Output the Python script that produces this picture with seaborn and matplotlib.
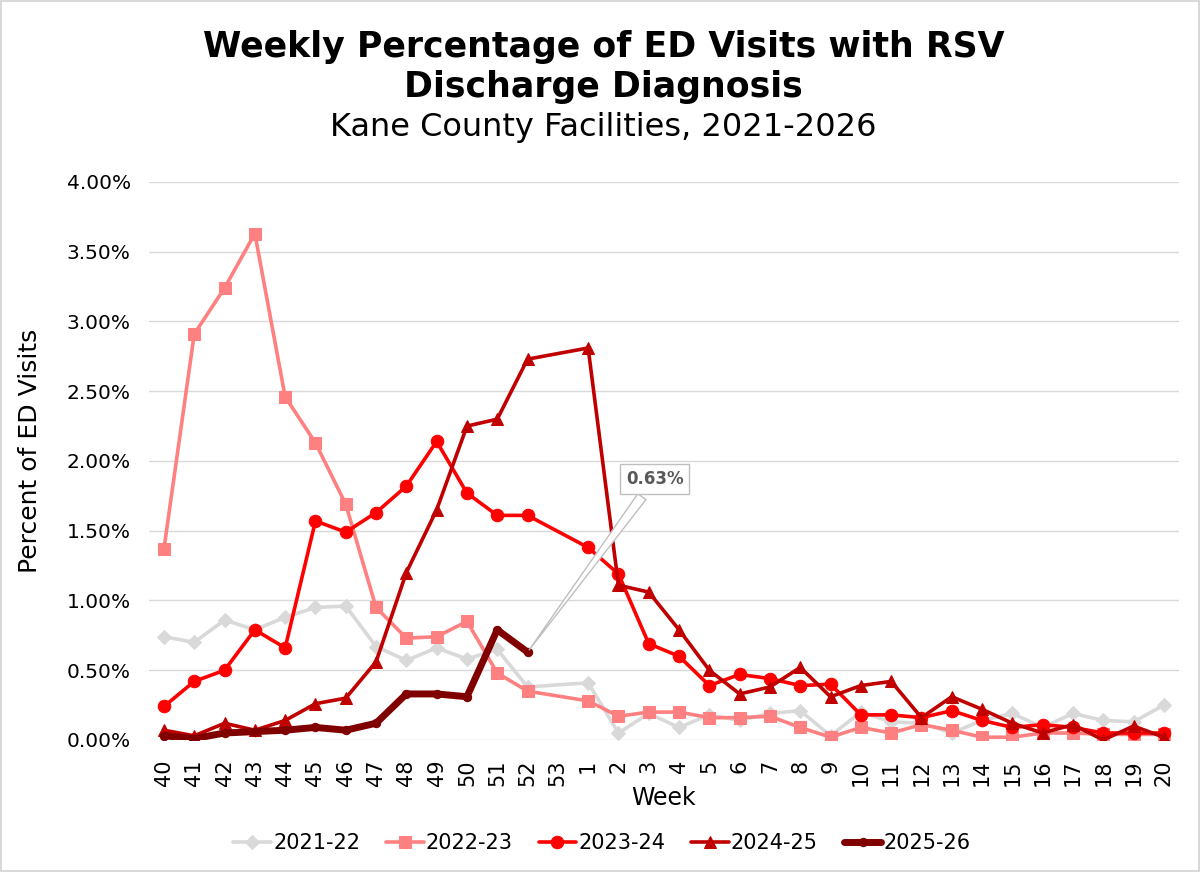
import numpy as np
import pandas as pd
import matplotlib
matplotlib.use("Agg")
import matplotlib.pyplot as plt
import seaborn as sns

# MMWR weeks, season runs week 40 -> week 20
weeks = [str(w) for w in list(range(40, 54)) + list(range(1, 21))]

# percent of ED visits, None where no value (week 53 / not yet reported)
s2021_22 = [0.74, 0.70, 0.86, 0.79, 0.88, 0.95, 0.96, 0.67, 0.57, 0.66, 0.58, 0.65, 0.38, None,
            0.41, 0.05, 0.19, 0.09, 0.18, 0.14, 0.19, 0.21, 0.03, 0.20, 0.13, 0.12, 0.05, 0.14,
            0.19, 0.09, 0.19, 0.14, 0.13, 0.25]
s2022_23 = [1.37, 2.91, 3.24, 3.63, 2.46, 2.13, 1.69, 0.95, 0.73, 0.74, 0.85, 0.48, 0.35, None,
            0.28, 0.17, 0.20, 0.20, 0.16, 0.16, 0.17, 0.09, 0.02, 0.09, 0.05, 0.11, 0.07, 0.02,
            0.02, 0.05, 0.05, 0.04, 0.04, 0.04]
s2023_24 = [0.24, 0.42, 0.50, 0.79, 0.66, 1.57, 1.49, 1.63, 1.82, 2.14, 1.77, 1.61, 1.61, None,
            1.38, 1.19, 0.69, 0.60, 0.39, 0.47, 0.44, 0.39, 0.40, 0.18, 0.18, 0.16, 0.21, 0.14,
            0.09, 0.11, 0.09, 0.05, 0.05, 0.05]
s2024_25 = [0.07, 0.03, 0.12, 0.07, 0.14, 0.26, 0.30, 0.56, 1.20, 1.65, 2.25, 2.30, 2.73, None,
            2.81, 1.11, 1.06, 0.79, 0.50, 0.33, 0.38, 0.52, 0.31, 0.39, 0.42, 0.16, 0.31, 0.22,
            0.12, 0.05, 0.11, 0.00, 0.10, 0.02]
s2025_26 = [0.03, 0.01, 0.05, 0.06, 0.07, 0.09, 0.07, 0.12, 0.33, 0.33, 0.31, 0.79, 0.63, None] + [None] * 20

seasons = ["2021-22", "2022-23", "2023-24", "2024-25", "2025-26"]
values = [s2021_22, s2022_23, s2023_24, s2024_25, s2025_26]
colors = ["#D9D9D9", "#FF8080", "#FF0000", "#C00000", "#800000"]
markers = ["D", "s", "o", "^", "o"]
msizes = [7, 8, 9, 8, 6]
widths = [2.6, 2.6, 2.6, 2.6, 5.0]

sns.set_style("white")
plt.rcParams["font.family"] = ["DejaVu Sans"]
plt.rcParams["text.color"] = "black"
plt.rcParams["axes.labelcolor"] = "black"
plt.rcParams["xtick.color"] = "black"
plt.rcParams["ytick.color"] = "black"

fig = plt.figure(figsize=(12, 8.72), dpi=100, edgecolor="#D9D9D9", linewidth=1.5)
ax = fig.add_axes([0.124, 0.1514, 0.8585, 0.6399])

for name, vals, col, mk, ms, lw in zip(seasons, values, colors, markers, msizes, widths):
    df = pd.DataFrame({"pos": np.arange(len(weeks)), "pct": vals}).dropna()
    sns.lineplot(data=df, x="pos", y="pct", ax=ax, color=col, marker=mk, markersize=ms,
                 markeredgecolor=col, linewidth=lw, label=name, sort=False)

# callout for the latest value
last_idx = max(i for i, v in enumerate(s2025_26) if v is not None)
last_val = s2025_26[last_idx]
ax.annotate(f"{last_val:.2f}%", xy=(last_idx, last_val), xytext=(last_idx + 4.2, 1.87),
            ha="center", va="center", fontsize=12, fontweight="bold", color="#595959",
            bbox=dict(boxstyle="square,pad=0.35", fc="white", ec="#BFBFBF", lw=1),
            arrowprops=dict(arrowstyle="wedge,tail_width=0.6,shrink_factor=0.5",
                            fc="white", ec="#BFBFBF", lw=1))

ax.set_xlim(-0.5, len(weeks) - 0.5)
ax.set_ylim(0, 4)
ax.set_xticks(range(len(weeks)))
ax.set_xticklabels(weeks, rotation=90, fontsize=15)
yt = np.arange(0, 4.01, 0.5)
ax.set_yticks(yt)
ax.set_yticklabels([f"{v:.2f}%" for v in yt], fontsize=14.5)
ax.tick_params(axis="y", length=0, pad=13)
ax.tick_params(axis="x", length=0, pad=14)
ax.yaxis.grid(True, color="#D9D9D9", linewidth=1)
ax.set_axisbelow(True)
for sp in ax.spines.values():
    sp.set_visible(False)

ax.set_xlabel("Week", fontsize=17, labelpad=0)
ax.set_ylabel("Percent of ED Visits", fontsize=18)
ax.yaxis.set_label_coords(-0.104, 0.518)

fig.text(0.503, 0.946, "Weekly Percentage of ED Visits with RSV", ha="center", va="center",
         fontsize=25, fontweight="bold")
fig.text(0.503, 0.900, "Discharge Diagnosis", ha="center", va="center",
         fontsize=25, fontweight="bold")
fig.text(0.503, 0.854, "Kane County Facilities, 2021-2026", ha="center", va="center", fontsize=23)

ax.legend(loc="center", bbox_to_anchor=(0.44, -0.185), ncol=5, frameon=False, fontsize=15,
          handlelength=1.8, handletextpad=0.1, columnspacing=1.25)

fig.savefig("out.png", dpi=100)
